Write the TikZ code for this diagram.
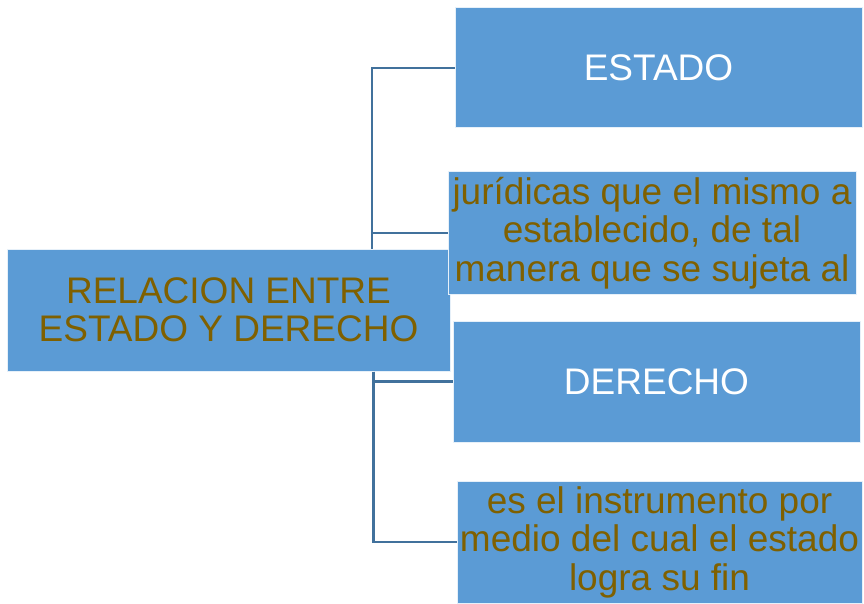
\documentclass[tikz,border=0pt]{standalone}
\usepackage{fontspec}
\setmainfont{Liberation Sans}
\definecolor{boxblue}{HTML}{5B9BD5}
\definecolor{txtgold}{HTML}{7F6000}
\definecolor{connblue}{HTML}{41719C}
\begin{document}
\begin{tikzpicture}[x=1pt,y=-1pt,
  box/.style={draw=white!85!boxblue, line width=1pt, fill=boxblue, inner sep=0pt, align=center,
    font=\fontsize{37}{38.5}\selectfont},
  conn/.style={draw=connblue, line width=2.4pt}]
\useasboundingbox (0,0) rectangle (864,604);
\node[box, minimum width=443pt, minimum height=122pt, text=txtgold] (main) at (228.5,310) {RELACION ENTRE\\ESTADO Y DERECHO};
\node[box, minimum width=407pt, minimum height=120pt, text=white] (estado) at (658.5,68) {ESTADO};
\node[box, minimum width=408pt, minimum height=122pt, text=txtgold] (jur) at (652,233) {jurídicas que el mismo a\\establecido, de tal\\manera que se sujeta al};
\node[box, minimum width=407pt, minimum height=121pt, text=white] (derecho) at (656.5,381.5) {DERECHO};
\node[box, minimum width=405pt, minimum height=122pt, text=txtgold] (medio) at (659.5,542) {es el instrumento por\\medio del cual el estado\\logra su fin};
\draw[conn] ([xshift=143.5pt]main.north) |- (estado.west);
\draw[conn] ([xshift=143.5pt]main.north) |- (jur.west);
\draw[conn] ([xshift=145pt]main.south) |- (derecho.west);
\draw[conn] ([xshift=145pt]main.south) |- (medio.west);
\end{tikzpicture}
\end{document}
